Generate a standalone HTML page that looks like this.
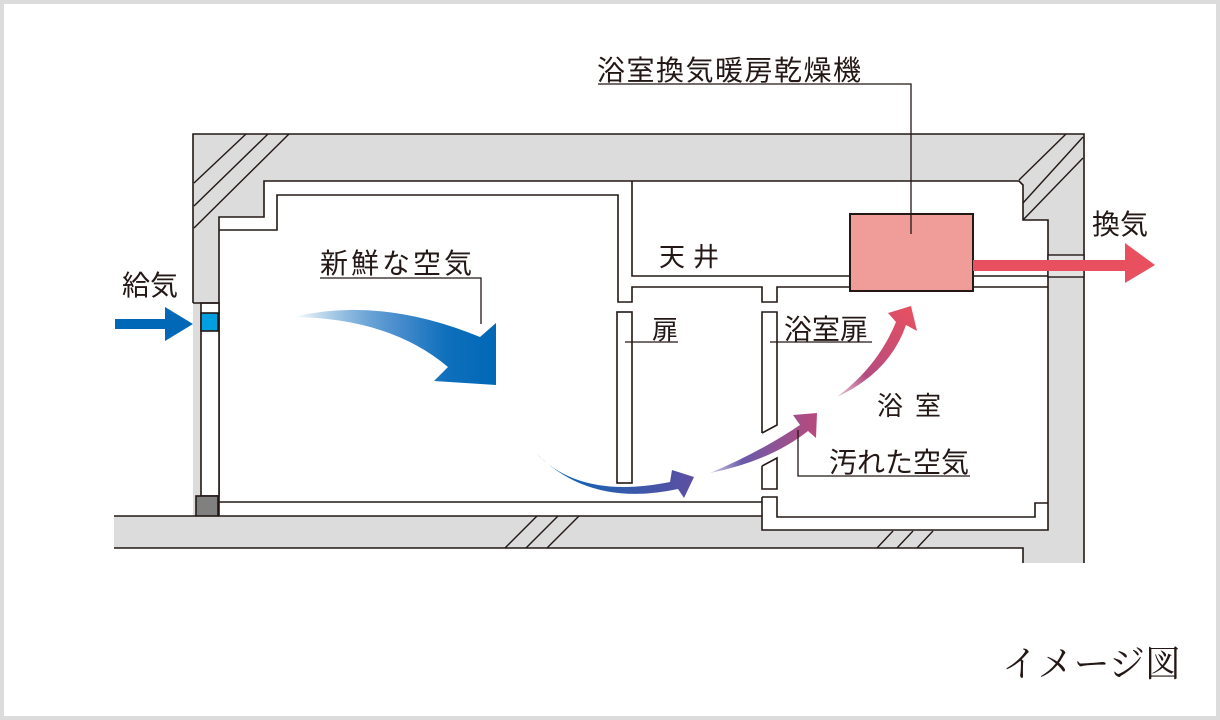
<!DOCTYPE html>
<html><head><meta charset="utf-8"><style>
html,body{margin:0;padding:0;background:#fff}
svg{display:block}
text{font-family:"Liberation Sans","Noto Sans CJK JP",sans-serif;fill:#231815}
</style></head><body>
<svg width="1220" height="720" viewBox="0 0 1220 720" xmlns="http://www.w3.org/2000/svg">
<defs>
<linearGradient id="g1" x1="293" y1="0" x2="496" y2="0" gradientUnits="userSpaceOnUse">
<stop offset="0" stop-color="#0068b7" stop-opacity="0"/><stop offset="0.5" stop-color="#4d8fce"/><stop offset="0.75" stop-color="#0f70bc"/><stop offset="1" stop-color="#0068b7"/></linearGradient>
<linearGradient id="g2" x1="536" y1="0" x2="694" y2="0" gradientUnits="userSpaceOnUse">
<stop offset="0" stop-color="#0068b7"/><stop offset="1" stop-color="#5e4fa2"/></linearGradient>
<linearGradient id="g3" x1="710" y1="0" x2="817" y2="0" gradientUnits="userSpaceOnUse">
<stop offset="0" stop-color="#6a5aa8" stop-opacity="0.3"/><stop offset="0.3" stop-color="#6a5aa8"/><stop offset="1" stop-color="#b84a7c"/></linearGradient>
<linearGradient id="g4" x1="837" y1="397" x2="915" y2="310" gradientUnits="userSpaceOnUse">
<stop offset="0" stop-color="#b04a80" stop-opacity="0.3"/><stop offset="0.3" stop-color="#b44c80"/><stop offset="1" stop-color="#e85060"/></linearGradient>
</defs>
<rect x="2" y="2" width="1216" height="716" fill="#fff" stroke="#dcdcdc" stroke-width="4"/>
<!-- concrete -->
<g stroke="#231815" stroke-width="1.6" fill="#dcdcdc">
<polygon stroke="none" points="193,134 1084,134 1084,563 1023,563 1023,548 114,548 114,516 193,516"/>
<polyline fill="none" points="193,303 193,134 1084,134 1084,563"/>
<polyline fill="none" points="114,516 196,516"/>
<polyline fill="none" points="114,548 1023,548 1023,563"/>
<polygon fill="#fff" points="219,217 264,217 264,181 1019,181 1023,185 1023,220 1048,220 1048,530 762,530 762,516 219,516"/>
<rect x="201" y="303" width="18" height="193" fill="#fff"/>
<rect x="196" y="496" width="22" height="20" fill="#808080"/>
<rect x="201" y="313" width="17" height="18" fill="#00a0e0" stroke="#231815"/>
<line x1="193" y1="303" x2="219" y2="303"/>
</g>
<!-- hatch -->
<g stroke="#231815" stroke-width="1.4">
<line x1="194" y1="183" x2="246" y2="134"/><line x1="194" y1="206" x2="268" y2="134"/><line x1="194" y1="228" x2="289" y2="134"/>
<line x1="1019" y1="180" x2="1066" y2="134"/><line x1="1023" y1="203" x2="1083" y2="137"/><line x1="1023" y1="220" x2="1083" y2="158"/>
<line x1="505" y1="548" x2="537" y2="516"/><line x1="526" y1="548" x2="558" y2="516"/><line x1="547" y1="548" x2="579" y2="516"/>
<line x1="877" y1="548" x2="893" y2="531"/><line x1="897" y1="548" x2="913" y2="531"/><line x1="917" y1="548" x2="933" y2="531"/>
</g>
<rect x="1048" y="255" width="36" height="22" fill="#e4e4e4" stroke="#231815" stroke-width="1.4"/>
<!-- finish lines -->
<g stroke="#231815" stroke-width="1.6" fill="none">
<polyline points="219,230 277,230 277,195 618,195 618,302 632,302 632,287 762,287 762,302 777,302 777,287 850,287"/>
<polyline points="973,287 1048,287"/>
<polyline points="632,181 632,276 850,276"/>
<polyline points="973,276 1048,276"/>
<polyline points="219,502 762,502"/>
<polyline points="762,497 777,497 777,517 1035,517 1035,503 1048,503"/>
<line x1="762" y1="497" x2="762" y2="516"/>
<rect x="617" y="312" width="15" height="171" fill="#fff"/>
<polyline points="762,433 762,312 777,312 777,425 762,433"/>
<polyline points="762,466 777,458 777,489 762,489 762,466"/>
</g>
<rect x="850" y="214" width="123" height="77" fill="#f09c98" stroke="#231815" stroke-width="2"/>
<!-- arrows -->
<polygon fill="#0068b7" points="115,319 165,319 165,307 193,324 165,341 165,329 115,329"/>
<polygon fill="#e8505f" points="973,260 1125,260 1125,243 1155,265 1125,283 1125,271 973,271"/>
<path fill="url(#g1)" d="M293,317 Q380,296 480,337 L496,323 L496,385 L434,381 L448,367 Q390,318 293,317 Z"/>
<path fill="url(#g2)" d="M536,453 Q580,500 670,482 L672,470 L694,477 L684,498 L678,489 Q590,508 536,453 Z"/>
<path fill="url(#g3)" d="M710,473 Q760,452 800,425 L793,415 L817,413 L816,438 L808,431 Q770,461 710,473 Z"/>
<path fill="url(#g4)" d="M837,397 Q878,366 896,322 L888,313 L911,306 L917,331 L906,325 Q890,372 837,397 Z"/>
<!-- leaders -->
<g stroke="#231815" stroke-width="1.3" fill="none">
<polyline points="598,84 911,84 911,234"/>
<polyline points="320,278 481,278 481,324"/>
<polyline points="625,342 678,342"/>
<polyline points="770,342 872,342"/>
<polyline points="798,430 798,476 970,476"/>
</g>
<!-- labels -->
<g font-size="28">
<text x="597" y="80" letter-spacing="1.5">浴室換気暖房乾燥機</text>
<text x="320" y="273" letter-spacing="3">新鮮な空気</text>
<text x="122" y="295">給気</text>
<text x="659" y="266" font-size="26" letter-spacing="8">天井</text>
<text x="652" y="339" font-size="26">扉</text>
<text x="784" y="339">浴室扉</text>
<text x="877" y="415" font-size="26" letter-spacing="12">浴室</text>
<text x="829" y="472">汚れた空気</text>
<text x="1092" y="234">換気</text>
</g>
<text x="1002" y="676" font-size="36" style='font-family:"Liberation Serif","Noto Serif CJK SC",serif'>イメージ図</text>
</svg>
</body></html>
